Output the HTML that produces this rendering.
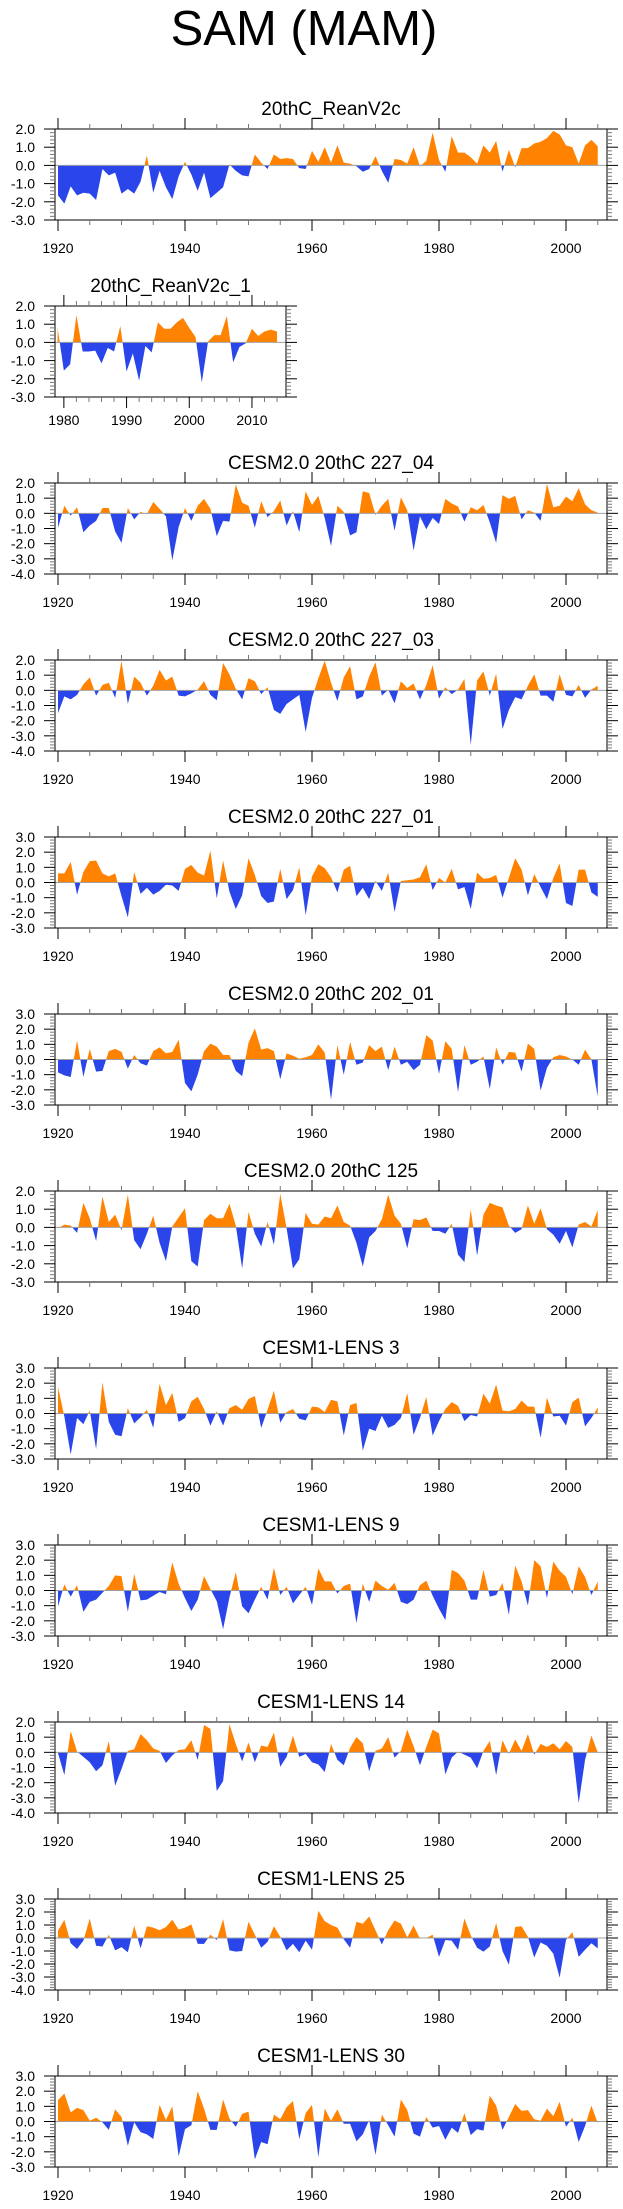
<!DOCTYPE html>
<html><head><meta charset="utf-8"><style>
html,body{margin:0;padding:0;background:#fff;}
svg{display:block;font-family:"Liberation Sans",Arial,sans-serif;}
</style></head><body>
<svg id="chart" width="623" height="2209" viewBox="0 0 623 2209" xmlns="http://www.w3.org/2000/svg">
<text x="304" y="45" font-size="49" text-anchor="middle" fill="#000">SAM (MAM)</text>
</svg>
<script>
const panelTitles = ["20thC_ReanV2c","20thC_ReanV2c_1","CESM2.0 20thC 227_04","CESM2.0 20thC 227_03","CESM2.0 20thC 227_01","CESM2.0 20thC 202_01","CESM2.0 20thC 125","CESM1-LENS 3","CESM1-LENS 9","CESM1-LENS 14","CESM1-LENS 25","CESM1-LENS 30"];
const panelYMax = [2,2,2,2,3,3,2,3,3,2,3,3];
const panelYMin = [-3,-3,-4,-4,-3,-3,-3,-3,-3,-4,-4,-3];
const panelStartYear = [1920,1979,1920,1920,1920,1920,1920,1920,1920,1920,1920,1920];

const reanV2c = [-1.65,-2.1,-1.15,-1.65,-1.5,-1.55,-1.9,-0.2,-0.55,-0.4,-1.55,-1.3,-1.55,-0.9,0.55,-1.5,-0.3,-1.2,-1.85,-0.6,0.2,-0.5,-1.4,-0.4,-1.8,-1.5,-1.2,0.05,-0.3,-0.55,-0.6,0.6,0.15,-0.2,0.6,0.35,0.4,0.35,-0.15,-0.2,0.8,0.2,1.0,0.15,1.1,0.15,0.1,-0.05,-0.35,-0.2,0.5,-0.3,-0.95,0.35,0.3,0.1,1.0,-0.05,0.25,1.8,0.3,-0.35,1.6,0.7,0.7,0.45,0.1,1.1,0.7,1.35,-0.35,0.85,-0.1,0.95,0.95,1.2,1.3,1.5,1.9,1.7,1.1,1.0,0.1,1.1,1.4,1.05];
const reanV2c1 = [0.8,-1.55,-1.2,1.5,-0.5,-0.5,-0.45,-1.15,-0.3,-0.5,0.9,-1.6,-0.6,-2.1,-0.2,-0.55,1.1,0.75,0.75,1.1,1.35,0.8,0.3,-2.2,0.05,0.4,0.4,1.45,-1.1,-0.25,-0.05,0.75,0.35,0.6,0.7,0.6];
const cesm2_227_04 = [-0.95,0.5,-0.15,0.4,-1.25,-0.8,-0.5,0.35,0.35,-1.2,-1.95,0.35,-0.4,0.1,-0.05,0.75,0.3,-0.2,-3.1,-0.9,0.35,-0.5,0.5,0.95,0.3,-1.5,-0.5,-0.55,1.9,0.7,0.5,-0.95,0.8,-0.25,0.15,0.85,-0.8,0.15,-1.25,1.45,0.55,1.15,-0.3,-2.15,0.5,0.1,-1.45,-1.25,1.45,1.35,-0.1,0.5,0.95,-1.15,1.05,0.2,-2.45,-0.2,-1.05,-0.3,-0.7,0.95,0.65,0.45,-0.55,0.4,0.2,0.55,-0.6,-1.95,1.2,0.95,1.15,-0.4,0.2,0.05,-0.5,1.95,0.4,0.5,1.1,0.8,1.65,0.6,0.2,0.05];
const cesm2_227_03 = [-1.5,-0.4,-0.6,-0.3,0.4,0.85,-0.35,0.35,0.5,-0.5,1.95,-0.9,0.9,0.5,-0.35,0.3,1.35,0.65,0.9,-0.35,-0.4,-0.2,0.05,0.6,-0.3,-0.65,1.8,1.05,0.1,-0.6,0.8,0.6,-0.25,0.2,-1.3,-1.55,-0.9,-0.6,-0.3,-2.75,-0.5,0.8,1.95,0.5,-0.7,0.85,1.6,-0.6,-0.4,0.9,1.85,-0.35,0.05,-0.85,0.6,0.15,0.45,-0.6,0.35,1.65,-0.55,0.2,-0.25,0.05,0.75,-3.6,0.65,1.25,-0.35,1.1,-2.55,-1.3,-0.45,-0.6,0.3,1.05,-0.35,-0.35,-0.75,1.05,-0.3,-0.4,0.35,-0.5,0.05,0.3];
const cesm2_227_01 = [0.6,0.6,1.35,-0.8,0.7,1.4,1.45,0.6,0.4,0.6,-0.9,-2.3,0.7,-0.75,-0.35,-0.8,-0.55,-0.15,-0.2,-0.55,0.9,1.15,0.65,0.45,2.1,-1.05,1.45,-0.6,-1.75,-0.85,1.6,0.5,-0.9,-1.35,-1.25,0.9,-1.1,-0.5,1.0,-2.15,0.4,1.2,0.95,0.35,-0.65,0.85,1.1,-0.9,-0.35,-1.1,0.1,-0.55,0.65,-1.95,0.1,0.15,0.2,0.35,1.2,-0.5,0.3,0.0,0.9,-0.45,-0.3,-1.75,0.65,0.25,0.3,0.5,-1.0,0.3,1.6,0.85,-0.85,0.55,-0.3,-1.1,0.3,1.25,-1.35,-1.55,0.85,0.85,-0.65,-0.95];
const cesm2_202_01 = [-0.85,-1.05,-1.15,1.25,-1.15,0.7,-0.8,-0.75,0.55,0.7,0.5,-0.6,0.3,-0.25,-0.4,0.55,0.8,0.4,0.5,1.3,-1.55,-2.1,-1.0,0.55,1.05,0.85,0.3,0.3,-0.75,-1.1,1.1,2.05,0.65,0.75,0.55,-1.3,0.4,0.25,0.05,0.15,0.3,1.0,0.45,-2.65,0.95,-1.0,1.15,-0.35,-0.2,0.95,0.55,0.85,-0.7,0.85,-0.35,-0.15,-0.7,-0.35,1.6,1.25,-0.95,1.2,0.7,-2.15,0.95,-0.35,-0.15,0.2,-1.95,0.8,-0.35,0.5,0.45,-0.8,1.05,0.7,-2.05,-0.55,0.15,0.3,0.2,0.0,-0.35,0.65,0.0,-2.45];
const cesm2_125 = [-0.05,0.15,0.1,-0.3,1.35,0.5,-0.75,1.7,0.3,0.7,-0.15,1.8,-0.7,-1.2,-0.35,0.65,-0.85,-1.85,0.05,0.55,1.05,-1.85,-2.15,0.4,0.75,0.5,0.5,1.3,0.1,-2.25,0.85,-0.35,-1.05,0.3,-0.95,1.85,-0.05,-2.25,-1.75,0.8,0.2,0.15,0.6,0.5,1.2,0.3,0.1,-0.85,-2.15,-0.55,-0.2,0.45,1.8,0.65,0.2,-1.15,0.45,0.4,0.55,-0.2,-0.2,-0.35,0.2,-1.5,-1.9,1.0,-1.55,0.7,1.35,1.2,1.1,0.1,-0.3,-0.1,1.2,0.2,1.05,-0.1,-0.4,-0.9,-0.2,-1.1,0.15,0.3,0.05,0.95];
const lens3 = [1.75,-0.2,-2.7,-0.3,-0.7,0.2,-2.35,2.05,-0.55,-1.4,-1.5,0.35,-0.65,-0.25,0.25,-0.95,1.95,0.55,1.35,-0.55,-0.3,0.8,1.1,0.3,-0.8,0.15,-0.8,0.35,0.55,0.25,0.95,1.15,-0.95,0.25,1.5,-0.6,0.1,0.3,-0.35,-0.45,0.45,0.4,0.1,0.9,0.8,-1.45,0.55,0.7,-2.45,-1.0,-1.15,-0.15,-0.95,-0.75,-0.3,1.35,-1.4,-0.3,1.1,-1.45,-0.5,0.3,0.75,0.5,-0.5,-0.1,-0.2,1.3,0.65,1.9,0.2,0.15,0.3,0.85,0.45,0.45,-1.6,1.05,-0.2,-0.15,-0.8,0.75,1.05,-0.85,-0.3,0.4];
const lens9 = [-1.05,0.4,-0.4,0.35,-1.4,-0.75,-0.6,-0.15,0.3,1.0,0.95,-1.4,1.1,-0.65,-0.6,-0.35,-0.1,-0.25,1.85,0.45,-0.5,-1.35,-0.6,0.95,0.1,-0.7,-2.55,-0.45,1.2,-1.05,-1.5,-0.6,0.25,-0.6,1.5,-0.3,0.25,-0.85,-0.3,0.25,-0.95,1.45,0.6,0.6,-0.2,0.3,0.45,-2.15,0.45,-0.75,0.65,0.3,0.05,0.5,-0.75,-0.9,-0.6,0.35,0.65,-0.35,-1.2,-1.95,1.35,1.15,0.65,-0.6,-0.6,1.35,-0.4,-0.3,0.5,-1.6,1.65,0.6,-1.0,2.0,1.6,-0.5,1.9,1.3,0.9,-0.25,1.6,0.9,-0.3,0.6];
const lens14 = [-0.05,-1.5,1.4,0.05,-0.3,-0.65,-1.25,-0.85,0.75,-2.2,-1.1,0.1,0.2,1.2,0.8,0.25,0.1,-0.7,-0.2,0.15,0.2,0.8,-0.5,1.8,1.55,-2.55,-1.9,1.85,0.55,-0.6,0.65,-0.65,0.45,0.35,1.3,-0.95,-0.3,1.1,-0.3,-0.1,-0.65,-0.8,-1.3,0.55,-0.5,-0.85,0.3,1.0,0.6,-1.25,0.1,0.25,1.0,-0.35,0.1,1.5,0.4,-0.85,0.35,1.5,1.25,-1.45,-0.35,0.05,-0.15,-0.35,-1.05,0.1,0.75,-1.5,0.8,-0.1,0.85,0.1,1.2,-0.15,0.55,0.35,0.6,0.2,0.75,0.35,-3.35,-0.5,1.1,0.0];
const lens25 = [0.55,1.4,-0.4,-0.85,-0.2,1.5,-0.6,-0.65,0.25,-0.95,-0.7,-1.1,0.95,-0.8,0.9,0.8,0.6,0.85,1.4,0.65,0.8,1.05,-0.45,-0.45,0.25,-0.15,1.45,-0.95,-1.05,-1.0,1.25,0.25,-0.75,-0.3,0.9,0.1,-0.95,-0.45,-1.1,-0.2,-0.9,2.1,1.3,1.0,0.8,-0.1,-0.75,1.25,1.1,1.65,0.6,-0.5,0.6,1.35,1.1,0.05,0.95,-0.05,0.0,0.25,-1.45,-0.15,-0.2,-0.9,1.5,0.2,-0.75,-1.05,-0.65,1.15,-1.0,-2.05,0.85,0.9,0.1,-1.5,-0.35,-0.6,-1.2,-3.05,-0.15,0.45,-1.45,-0.9,-0.4,-0.8];
const lens30 = [1.4,1.85,0.6,0.9,0.75,0.05,0.25,-0.05,-0.55,0.8,0.3,-1.6,-0.05,-0.7,-0.85,-1.15,1.1,0.1,1.0,-2.3,-0.5,-0.25,2.0,0.85,-0.55,-0.55,1.45,0.2,-0.35,0.5,0.65,-2.5,-1.35,-1.5,0.45,0.15,0.95,1.35,-1.15,0.55,1.1,-2.35,0.85,0.05,0.8,-0.15,-0.15,-1.3,-0.85,0.1,-2.2,0.45,-0.25,-1.0,1.45,0.75,-0.8,-1.0,0.3,-0.4,-0.3,-1.2,-0.4,-0.75,0.55,-0.9,-0.5,-0.6,1.7,1.05,-0.55,0.3,1.15,0.7,0.75,0.15,0.05,0.85,0.35,1.3,-0.35,0.25,-1.35,-0.3,1.05,-0.1];

const allSeries = [reanV2c, reanV2c1, cesm2_227_04, cesm2_227_03, cesm2_227_01, cesm2_202_01, cesm2_125, lens3, lens9, lens14, lens25, lens30];

const NS = "http://www.w3.org/2000/svg";
const svg = document.getElementById("chart");
function mk(tag, attrs, parent) {
  const e = document.createElementNS(NS, tag);
  for (const k in attrs) e.setAttribute(k, attrs[k]);
  (parent || svg).appendChild(e);
  return e;
}

allSeries.forEach((vals, i) => {
  const isShort = i === 1;
  const top = 129 + 177 * i, h = 91, bot = top + h;
  const L = 55, R = isShort ? 286 : 607;
  const ymax = panelYMax[i], ymin = panelYMin[i];
  const start = panelStartYear[i];
  const xScale = yr => isShort ? 57.6 + (yr - 1979) * 6.27 : 58 + (yr - 1920) * 6.35;
  const yScale = v => top + (ymax - v) / (ymax - ymin) * h;
  const y0 = yScale(0);

  const g = mk("g", {});
  
  

  const t = mk("text", {x: (L + R) / 2, y: top - 14, "font-size": 19, "text-anchor": "middle", fill: "#000"}, g);
  
  
  t.textContent = panelTitles[i];

  // clip paths
  const defs = mk("defs", {}, g);
  const cpA = mk("clipPath", {id: "ca" + i}, defs);
  mk("rect", {x: L, y: top, width: R - L, height: y0 - top}, cpA);
  const cpB = mk("clipPath", {id: "cb" + i}, defs);
  mk("rect", {x: L, y: y0, width: R - L, height: bot - y0}, cpB);

  let pts = xScale(start).toFixed(2) + "," + y0.toFixed(2);
  vals.forEach((v, k) => { pts += " " + xScale(start + k).toFixed(2) + "," + yScale(v).toFixed(2); });
  pts += " " + xScale(start + vals.length - 1).toFixed(2) + "," + y0.toFixed(2);

  const pos = mk("polygon", {points: pts, fill: "#ff8200", "clip-path": "url(#ca" + i + ")"}, g);
  
  
  const neg = mk("polygon", {points: pts, fill: "#2a45ea", "clip-path": "url(#cb" + i + ")"}, g);
  
  

  const zl = mk("line", {x1: L, x2: R, y1: y0, y2: y0, stroke: "#a0a0a0", "stroke-width": 1}, g);
  
  

  const fr = mk("rect", {x: L, y: top, width: R - L, height: h, fill: "none", stroke: "#000", "stroke-width": 1}, g);
  
  

  // y ticks
  for (let v = ymin; v <= ymax + 1e-6; v += 0.2) {
    const vv = Math.round(v * 10) / 10;
    const major = Math.abs(vv - Math.round(vv)) < 1e-6;
    const y = yScale(vv);
    const len = major ? 11 : 5;
    mk("line", {x1: L - len, x2: L, y1: y, y2: y, stroke: major ? "#000" : "#777", "stroke-width": 1}, g);
    mk("line", {x1: R, x2: R + len, y1: y, y2: y, stroke: major ? "#000" : "#777", "stroke-width": 1}, g);
    if (major) {
      const lb = mk("text", {x: 35, y: y + 5, "font-size": 14, "text-anchor": "end", fill: "#000"}, g);
      
      
      lb.textContent = vv.toFixed(1);
    }
  }

  // x ticks
  const x0yr = isShort ? 1978 : 1920, x1yr = isShort ? 2014 : 2005;
  const minorStep = isShort ? 2 : 5, majorStep = isShort ? 10 : 20;
  for (let yr = x0yr; yr <= x1yr; yr += minorStep) {
    const major = (yr - (isShort ? 1980 : 1920)) % majorStep === 0;
    const x = xScale(yr);
    if (x < L || x > R) continue;
    const len = major ? 11 : 5;
    mk("line", {x1: x, x2: x, y1: top - len, y2: top, stroke: major ? "#000" : "#777", "stroke-width": 1}, g);
    mk("line", {x1: x, x2: x, y1: bot, y2: bot + len, stroke: major ? "#000" : "#777", "stroke-width": 1}, g);
    if (major) {
      const lb = mk("text", {x: x, y: isShort ? bot + 28 : bot + 33, "font-size": 14, "text-anchor": "middle", fill: "#000"}, g);
      
      
      lb.textContent = String(yr);
    }
  }
});
</script>
</body></html>
